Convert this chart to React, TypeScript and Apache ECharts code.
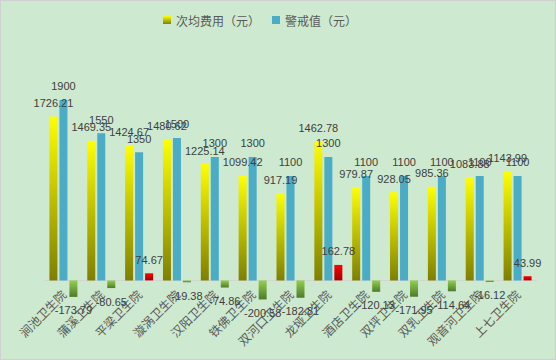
import React, { useEffect, useRef } from "react";
import * as echarts from "echarts";

const categories = [
  "涧池卫生院", "蒲溪卫生院", "平梁卫生院", "漩涡卫生院", "汉阳卫生院", "铁佛卫生院",
  "双河口卫生院", "龙垭卫生院", "酒店卫生院", "双坪卫生院", "双乳卫生院", "观音河卫生院", "上七卫生院",
];
const avgCost = [1726.21, 1469.35, 1424.67, 1480.62, 1225.14, 1099.42, 917.19, 1462.78, 979.87, 928.05, 985.36, 1083.88, 1143.99];
const warnValue = [1900, 1550, 1350, 1500, 1300, 1300, 1100, 1300, 1100, 1100, 1100, 1100, 1100];
const diffValue = [-173.79, -80.65, 74.67, -19.38, -74.86, -200.58, -182.81, 162.78, -120.13, -171.95, -114.64, -16.12, 43.99];
const seriesNames = ["次均费用（元）", "警戒值（元）"];

const Y_MIN = -500;
const Y_MAX = 2000;
const GRID_TOP = 89.4;
const GRID_BOTTOM = 31.1;
const CHART_H = 360;

const grad = (top: string, bottom: string) =>
  new echarts.graphic.LinearGradient(0, 0, 0, 1, [
    { offset: 0, color: top },
    { offset: 1, color: bottom },
  ]);

export default function App() {
  const ref = useRef<HTMLDivElement>(null);
  useEffect(() => {
    document.body.style.margin = "0";
    if (!ref.current) return;
    const chart = echarts.init(ref.current, null, { renderer: "svg" });
    const gridH = CHART_H - GRID_TOP - GRID_BOTTOM;
    const zeroOffset = (-Y_MIN / (Y_MAX - Y_MIN)) * gridH;
    const labelStyle = { show: true, position: "top" as const, fontSize: 11, color: "#404040", fontFamily: "Liberation Sans", distance: 8 };
    chart.setOption({
      animation: false,
      backgroundColor: "#cde9cf",
      legend: {
        data: seriesNames,
        left: 157,
        top: 8,
        icon: "rect",
        itemWidth: 8,
        itemHeight: 8,
        itemGap: 12,
        textStyle: { fontSize: 12, color: "#595959", fontFamily: "Noto Sans CJK SC" },
      },
      grid: { left: 43.5, right: 18.5, top: GRID_TOP, bottom: GRID_BOTTOM, containLabel: false, outerBoundsMode: "none" },
      xAxis: {
        type: "category",
        data: categories,
        position: "bottom",
        offset: -zeroOffset,
        axisLine: { onZero: false, lineStyle: { color: "#d4d4d4", width: 1 } },
        axisTick: { show: false },
        axisLabel: { interval: 0, rotate: 45, fontSize: 12, color: "#595959", margin: 12, fontFamily: "Noto Sans CJK SC" },
      },
      yAxis: {
        type: "value",
        min: Y_MIN,
        max: Y_MAX,
        axisLine: { show: false },
        axisTick: { show: false },
        axisLabel: { show: false },
        splitLine: { show: false },
      },
      series: [
        {
          name: seriesNames[0],
          type: "bar",
          data: avgCost,
          barWidth: 8,
          barGap: "25%",
          itemStyle: { color: grad("#ffff00", "#7f7f00") },
          label: labelStyle,
        },
        {
          name: seriesNames[1],
          type: "bar",
          data: warnValue,
          barWidth: 8,
          barGap: "25%",
          itemStyle: { color: "#4bacc6" },
          label: labelStyle,
        },
        {
          name: "差值",
          type: "bar",
          barWidth: 8,
          barGap: "25%",
          data: diffValue.map((v) => ({
            value: v,
            itemStyle: { color: v >= 0 ? grad("#ff0000", "#a00000") : grad("#92d050", "#4f7a2a") },
            label: { position: v >= 0 ? "top" : "bottom" },
          })),
          label: { show: true, fontSize: 11, color: "#404040", fontFamily: "Liberation Sans", distance: 8 },
        },
      ],
    });
    return () => chart.dispose();
  }, []);
  return (
    <div
      ref={ref}
      style={{ position: "absolute", left: 0, top: 0, width: 556, height: 360, boxSizing: "border-box", border: "1px solid #d0d0d0" }}
    />
  );
}
